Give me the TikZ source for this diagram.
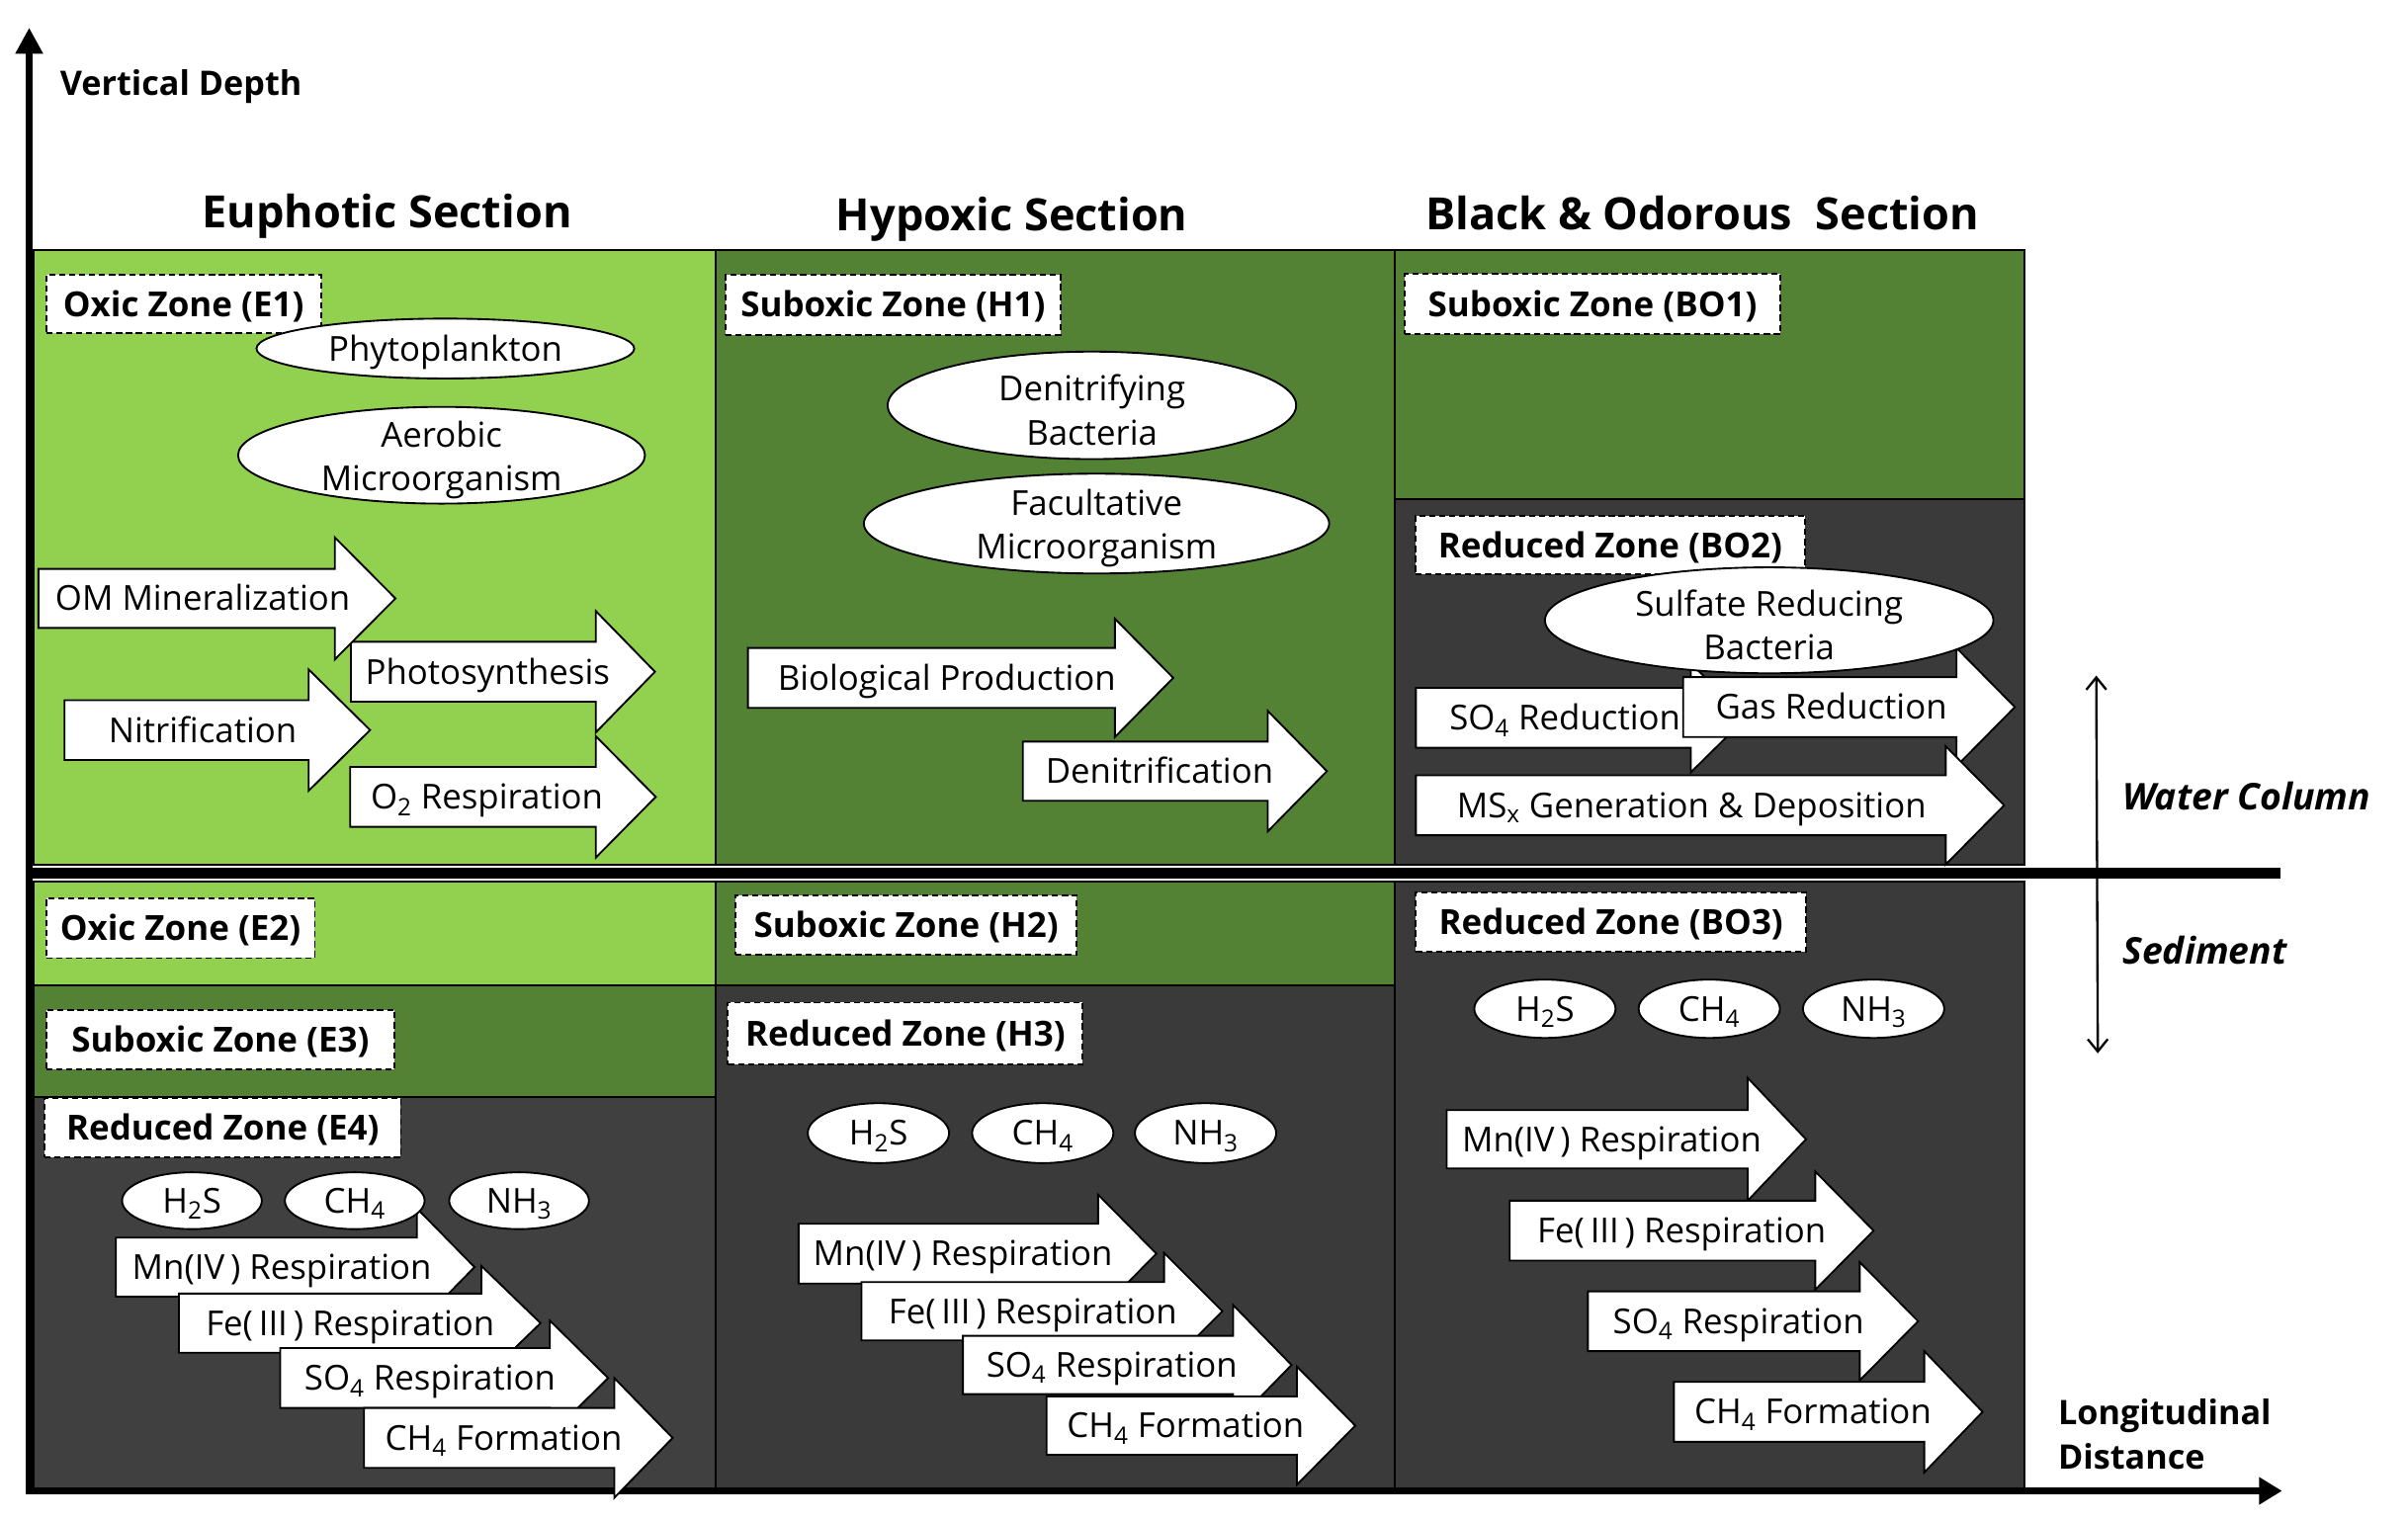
\documentclass[tikz,border=0pt]{standalone}
\usepackage{fontspec}
\setmainfont{Open Sans}
\usetikzlibrary{arrows.meta,shapes.geometric}
\definecolor{lgreen}{HTML}{92D050}
\definecolor{dgreen}{HTML}{548235}
\definecolor{dgray}{HTML}{3A3A3A}
\definecolor{egray}{HTML}{404040}
\newcommand\fTitle{\fontsize{29}{34}\selectfont\bfseries}
\newcommand\fZone{\fontsize{22.5}{26}\selectfont\bfseries}
\newcommand\fProc{\fontsize{22.4}{28.5}\selectfont}
\newcommand\fSide{\fontsize{22}{29}\selectfont\bfseries}
\newcommand\fSideIt{\fontsize{24}{29}\selectfont\bfseries\itshape}
% #1 name, #2 x left, #3 y top, #4 y bottom, #5 x head base, #6 head ext, #7 x tip, #8 text, #9 text x
\newcommand\parr[9]{%
  \filldraw[arrbody] (#2,#3) -- (#5,#3) -- (#5,{#3-#6}) -- (#7,{(#3+#4)/2}) -- (#5,{#4+#6}) -- (#5,#4) -- (#2,#4) -- cycle;
  \node[proc] (#1) at (#9,{(#3+#4)/2}) {#8};}
% single-line bubble: #1 name, #2 x, #3 y, #4 w, #5 h, #6 text
\newcommand\bub[6]{%
  \node[bubble,minimum width=#4,minimum height=#5] (#1) at (#2,#3) {};
  \node[proc] (#1t) at (#1) {#6};}
% two-line bubble
\newcommand\bubb[6]{%
  \node[bubble,minimum width=#4,minimum height=#5] (#1) at (#2,#3) {};
  \node[bubtext,yshift=-3pt] (#1t) at (#1) {#6};}
\begin{document}
\begin{tikzpicture}[x=1pt,y=-1pt,
  panel/.style={draw=black,line width=1.3pt},
  zonebox/.style={draw=black,fill=white,line width=1.2pt,dash pattern=on 4pt off 2.5pt,inner sep=0pt,font=\fZone,text height=16.2pt,text depth=0pt},
  arrbody/.style={draw=black,fill=white,line width=1.2pt,line join=miter},
  proc/.style={font=\fProc,inner sep=0pt,text height=16pt,text depth=0pt},
  bubble/.style={ellipse,draw=black,fill=white,line width=1.2pt,inner sep=0pt},
  bubtext/.style={font=\fProc,inner sep=0pt,align=center},
  title/.style={font=\fTitle,inner sep=0pt,text height=20.9pt,text depth=0pt},
  side/.style={font=\fSide,inner sep=0pt,anchor=west,text height=15.8pt,text depth=0pt},
  sideit/.style={font=\fSideIt,inner sep=0pt,anchor=west,text height=17.2pt,text depth=0pt},
]
\useasboundingbox (0,0) rectangle (1568,990);
% panels
\filldraw[panel,fill=lgreen] (22,163) rectangle (466,563);
\filldraw[panel,fill=dgreen] (466,163) rectangle (908,563);
\filldraw[panel,fill=dgreen] (908,163) rectangle (1318,325);
\filldraw[panel,fill=dgray] (908,325) rectangle (1318,563);
\filldraw[panel,fill=lgreen] (22,574) rectangle (466,642);
\filldraw[panel,fill=dgreen] (22,642) rectangle (466,714.5);
\filldraw[panel,fill=egray] (22,714.5) rectangle (466,970);
\filldraw[panel,fill=dgreen] (466,574) rectangle (908,642);
\filldraw[panel,fill=dgray] (466,642) rectangle (908,970);
\filldraw[panel,fill=dgray] (908,574) rectangle (1318,970);
% axes and water line
\coordinate (O) at (19,971);
\coordinate (Ytop) at (19,18);
\coordinate (Xend) at (1486,971);
\draw[line width=5pt,line join=miter,{Triangle[length=17pt,width=17pt]}-{Triangle[length=15pt,width=17pt]}] (Ytop) -- (O) -- (Xend);
\coordinate (WL) at (19,568.5);
\coordinate (WR) at (1485,568.5);
\draw[line width=7pt] (WL) -- (WR);
\coordinate (WCt) at (1365,440);
\coordinate (WCb) at (1366,686);
\draw[line width=1.5pt,{Straight Barb[length=8pt,width=13pt]}-{Straight Barb[length=8pt,width=13pt]}] (WCt) -- (WCb);
% titles and axis labels
\node[side] (vd) at (39,54) {Vertical Depth};
\node[title] (tE) at (252,138) {Euphotic Section};
\node[title] (tH) at (659,140) {Hypoxic Section};
\node[title] (tB) at (1108.5,139) {Black \& Odorous~~Section};
\node[sideit] (wc) at (1382,519) {Water Column};
\node[sideit] (sd) at (1382,619) {Sediment};
\node[side] (ld1) at (1340,920) {Longitudinal};
\node[side] (ld2) at (1340,949) {Distance};
% zone labels
\node[zonebox,minimum width=179,minimum height=38] (E1) at (119.5,198) {Oxic Zone (E1)};
\node[zonebox,minimum width=218,minimum height=39] (H1) at (581.5,198.5) {Suboxic Zone (H1)};
\node[zonebox,minimum width=245,minimum height=39] (BO1) at (1037,198) {Suboxic Zone (BO1)};
\node[zonebox,minimum width=254,minimum height=38] (BO2) at (1048.5,355) {Reduced Zone (BO2)};
\node[zonebox,minimum width=175,minimum height=39] (E2) at (117.5,604.5) {Oxic Zone (E2)};
\node[zonebox,minimum width=222,minimum height=39] (H2) at (590,602.5) {Suboxic Zone (H2)};
\node[zonebox,minimum width=254,minimum height=39] (BO3) at (1049,600.5) {Reduced Zone (BO3)};
\node[zonebox,minimum width=227,minimum height=38.5] (E3) at (143.5,677) {Suboxic Zone (E3)};
\node[zonebox,minimum width=231,minimum height=40] (H3) at (589.5,673) {Reduced Zone (H3)};
\node[zonebox,minimum width=232,minimum height=39] (E4) at (145,734.5) {Reduced Zone (E4)};
% euphotic water column arrows
\parr{aPhoto}{228.5}{418}{457}{388}{20}{426.5}{Photosynthesis}{317.5}
\parr{aO2}{228}{499.5}{538.5}{388}{20}{427}{O\textsubscript{2} Respiration}{317}
\parr{aOM}{25}{370.5}{409}{218}{20.5}{257.5}{OM Mineralization}{132}
\parr{aNit}{42}{456}{495}{201}{20}{241}{Nitrification}{132}
% hypoxic water column arrows
\parr{aBio}{487}{422}{461}{726}{19}{764}{Biological Production}{616.5}
\parr{aDen}{666}{483}{521.5}{825.5}{20}{864}{Denitrification}{755}
% black-odorous water column arrows
\parr{aSO4r}{922}{448}{487}{1101}{16}{1137}{SO\textsubscript{4} Reduction}{1019}
\parr{aGas}{1096}{441}{480}{1274}{19}{1312}{Gas Reduction}{1192.5}
\parr{aMS}{922}{505}{544}{1267}{19}{1305}{MS\textsubscript{x} Generation \& Deposition}{1101.5}
% euphotic sediment arrows
\parr{eMn}{75.5}{806}{844.5}{271.5}{19}{309}{Mn(IV\,) Respiration}{183.5}
\parr{eFe}{116.5}{842.5}{881}{313.5}{18}{352}{Fe(\,III\,) Respiration}{228}
\parr{eSO}{182.5}{878}{917}{358}{18}{396}{SO\textsubscript{4} Respiration}{280}
\parr{eCH}{237}{917}{956}{400}{19.5}{438}{CH\textsubscript{4} Formation}{328}
% hypoxic sediment arrows
\parr{hMn}{520}{797}{836}{715}{19}{753}{Mn(IV\,) Respiration}{627}
\parr{hFe}{561}{835}{873}{758}{19}{796}{Fe(\,III\,) Respiration}{672.5}
\parr{hSO}{627}{870}{908}{803}{20}{841}{SO\textsubscript{4} Respiration}{724}
\parr{hCH}{681.5}{909.5}{947.5}{844.5}{19.5}{882.5}{CH\textsubscript{4} Formation}{772}
% black-odorous sediment arrows
\parr{bMn}{942}{723}{761}{1138}{21}{1176}{Mn(IV\,) Respiration}{1049.5}
\parr{bFe}{983}{782}{821}{1182}{19}{1220}{Fe(\,III\,) Respiration}{1095}
\parr{bSO}{1034}{841}{880}{1211}{19}{1249}{SO\textsubscript{4} Respiration}{1132}
\parr{bCH}{1090}{900}{939}{1253}{20}{1291}{CH\textsubscript{4} Formation}{1180.5}
% organisms
\bub{phyto}{290}{227}{246}{39}{Phytoplankton}
\bubb{aero}{287.5}{296.5}{265}{63}{Aerobic\\Microorganism}
\bubb{denb}{711}{264}{266}{70}{Denitrifying\\Bacteria}
\bubb{facu}{714}{341}{303}{65}{Facultative\\Microorganism}
\bubb{srb}{1152}{404}{292}{69}{Sulfate Reducing\\Bacteria}
% gases
\bub{eHS}{125}{782}{91}{37}{H\textsubscript{2}S}
\bub{eCH4}{231}{782}{91}{37}{CH\textsubscript{4}}
\bub{eNH}{338}{782}{91}{37}{NH\textsubscript{3}}
\bub{hHS}{572}{738}{92}{39}{H\textsubscript{2}S}
\bub{hCH4}{679}{738}{92}{39}{CH\textsubscript{4}}
\bub{hNH}{785}{738}{92}{39}{NH\textsubscript{3}}
\bub{bHS}{1006}{657}{92}{38}{H\textsubscript{2}S}
\bub{bCH4}{1113}{657}{92}{38}{CH\textsubscript{4}}
\bub{bNH}{1220}{657}{92}{38}{NH\textsubscript{3}}
\end{tikzpicture}
\end{document}
